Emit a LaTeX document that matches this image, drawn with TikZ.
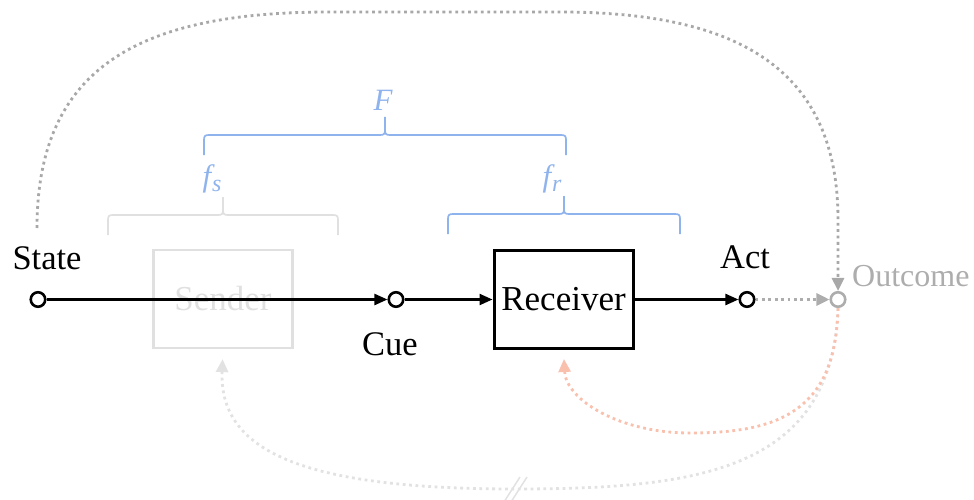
\documentclass[tikz,border=0pt]{standalone}
\usepackage{fontspec}
\setmainfont{Liberation Serif}
\usetikzlibrary{arrows.meta}

\definecolor{bracecol}{HTML}{8FB3EC}
\definecolor{fadegray}{HTML}{E0E0E0}
\definecolor{loopgray}{HTML}{A8A8A8}
\definecolor{outgray}{HTML}{ADADAD}
\definecolor{salmon}{HTML}{F9C0AE}
\definecolor{bottomgray}{HTML}{E2E2E2}

% horizontal curly bracket: colour, left x, tip x, right x, y of the bar
\newcommand{\hbracket}[5]{%
  \draw[#1, line width=1.7pt, line join=round]
    (#2,#5+20) -- (#2,#5+5) .. controls (#2,#5+1) and (#2+1,#5) .. (#2+5,#5)
    -- (#3-5,#5) .. controls (#3-1,#5) and (#3,#5-1) .. (#3,#5-5) -- (#3,#5-18)
    (#3,#5-5) .. controls (#3,#5-1) and (#3+1,#5) .. (#3+5,#5)
    -- (#4-5,#5) .. controls (#4-1,#5) and (#4,#5+1) .. (#4,#5+5) -- (#4,#5+20);%
}

\tikzset{
  dot/.style={circle, draw, line width=2.6pt, minimum size=14.5pt, inner sep=0pt, fill=white},
  lbl/.style={font=\fontsize{34.5}{34.5}\selectfont, inner sep=0pt},
  mathlbl/.style={font=\fontsize{31}{31}\selectfont\itshape, inner sep=0pt, text=bracecol},
  agent/.style={draw, minimum width=139pt, minimum height=98pt, inner sep=0pt,
                font=\fontsize{35}{35}\selectfont},
  flow/.style={line width=2.3pt, -{Triangle[length=13pt,width=11pt]}},
  dotline/.style={line width=2.8pt, dash pattern=on 2.8pt off 3.6pt,
                  -{Triangle[length=13pt,width=12pt]}},
}

\begin{document}
\begin{tikzpicture}[x=1pt, y=-1pt]
\useasboundingbox (0,0) rectangle (974,500);

% agents
\node[agent, draw=fadegray, text=fadegray, line width=2.2pt] (sender) at (223,299) {Sender};
\node[agent, line width=3pt] (receiver) at (563.5,299.5) {Receiver};

% variables
\node[dot] (state) at (38,299.5) {};
\node[dot] (cue) at (396,299.5) {};
\node[dot] (act) at (747,299.5) {};
\node[dot, draw=outgray] (outcome) at (838,299.5) {};

\node[lbl, anchor=base] (statelbl) at (47,269) {State};
\node[lbl, anchor=base] (cuelbl) at (390,355) {Cue};
\node[lbl, anchor=base] (actlbl) at (745,268) {Act};
\node[lbl, anchor=base west, text=outgray, font=\fontsize{32}{32}\selectfont] (outlbl) at (852,286) {Outcome};

% feedback loops (drawn below the main chain)
\draw[dotline, bottomgray, shorten >=10pt]
  (outcome.south) .. controls (832,470) and (700,489) .. (515,489)
  .. controls (300,489) and (219,450) .. (sender.south);
\draw[bottomgray, line width=1.5pt] (504,502) -- (520,477) (511,502) -- (527,477);
\draw[dotline, salmon, shorten >=9pt]
  (outcome.south) .. controls (836,410) and (780,433) .. (690,433)
  .. controls (620,433) and (566,400) .. (receiver.south);

\coordinate (loopstart) at (37,228);
\draw[dotline, loopgray]
  (loopstart) .. controls (37,60) and (150,12) .. (330,12) -- (560,12)
  .. controls (740,12) and (838,70) .. (838,220) -- (outcome.north);

% main chain
\draw[flow] (state) -- (cue);
\draw[flow] (cue) -- (receiver);
\draw[flow] (receiver) -- (act);
\draw[dotline, outgray] (act) -- (outcome);

% mappings
\hbracket{bracecol}{204}{385}{566}{135}
\hbracket{fadegray}{108}{223}{338}{215}
\hbracket{bracecol}{448}{564}{680}{214}
\node[mathlbl, anchor=base] (Flbl) at (383,111) {F};
\node[mathlbl, anchor=base] (fslbl) at (212,186) {f\kern1pt\raisebox{-5pt}{\fontsize{24}{24}\selectfont s}};
\node[mathlbl, anchor=base] (frlbl) at (552,186) {f\kern1pt\raisebox{-5pt}{\fontsize{24}{24}\selectfont r}};
\end{tikzpicture}
\end{document}
